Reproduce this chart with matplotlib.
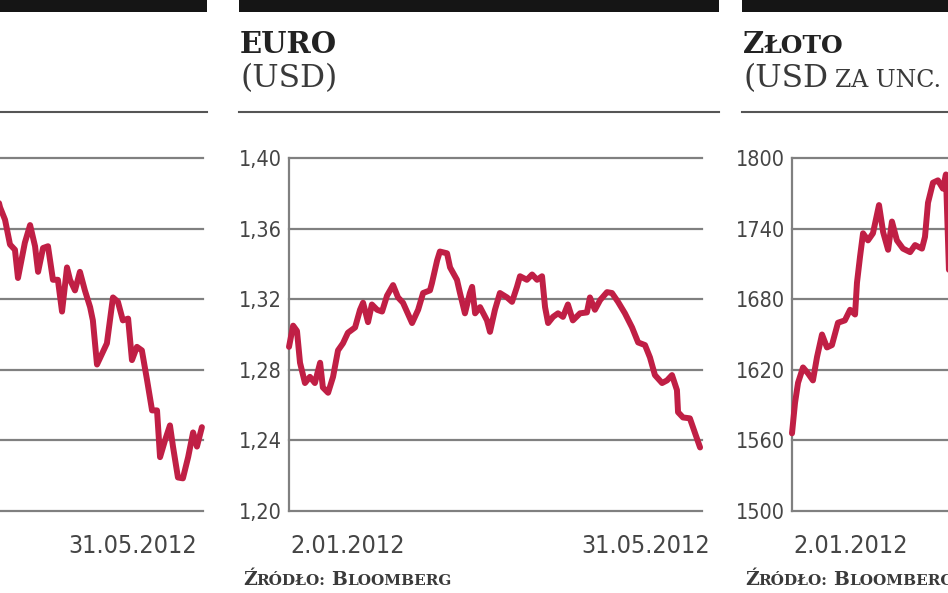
import matplotlib.pyplot as plt
from matplotlib.lines import Line2D
from matplotlib.patches import Rectangle

# days counted from 2.01.2012 (calendar days)
left_days = [75.5, 76.3, 78.1, 79.9, 81.7, 82.8, 85.3, 87.2, 89.0, 90.1, 91.9, 93.7,
             95.5, 97.3, 98.8, 100.6, 101.7, 103.5, 105.3, 107.1, 109.0, 110.0,
             111.5, 113.3, 115.1, 117.3, 119.1, 120.9, 122.8, 124.2, 126.0, 127.8,
             129.7, 131.5, 133.3, 134.4, 136.2, 138.0, 139.1, 140.9, 142.7, 144.6,
             146.4, 147.8, 149.6]
left_values = [1.377, 1.372, 1.365, 1.351, 1.348, 1.332, 1.352, 1.362, 1.350, 1.3355,
               1.349, 1.350, 1.331, 1.331, 1.313, 1.338, 1.331, 1.325, 1.3355, 1.325,
               1.3155, 1.308, 1.283, 1.289, 1.295, 1.321, 1.3185, 1.308, 1.309,
               1.2855, 1.293, 1.291, 1.274, 1.257, 1.257, 1.2305, 1.240, 1.2485,
               1.2365, 1.219, 1.2185, 1.2305, 1.2445, 1.2365, 1.2475]

euro_days = [0.0, 1.5, 2.9, 4.0, 5.8, 7.6, 9.4, 11.3, 12.3, 14.2, 16.0, 17.8, 19.6,
             21.4, 24.0, 25.8, 26.9, 28.7, 30.1, 32.0, 33.8, 35.6, 37.8, 39.6, 41.4,
             44.7, 46.9, 48.7, 51.2, 51.9, 53.8, 54.8, 57.4, 58.5, 61.0, 62.1, 63.9,
             65.7, 66.5, 67.6, 69.4, 71.9, 73.0, 74.8, 76.6, 79.2, 81.0, 82.8, 83.9,
             86.4, 88.3, 90.1, 91.9, 93.0, 94.1, 95.9, 97.7, 99.5, 101.3, 103.1,
             105.7, 108.2, 109.3, 111.1, 113.0, 115.5, 117.3, 119.5, 122.0, 124.6,
             126.8, 129.3, 131.1, 132.9, 135.5, 137.3, 139.1, 140.9, 141.3, 143.1,
             145.6, 147.5, 149.3]
euro_values = [1.293, 1.305, 1.302, 1.284, 1.2725, 1.276, 1.2725, 1.284, 1.270, 1.267,
               1.276, 1.291, 1.295, 1.301, 1.304, 1.314, 1.318, 1.307, 1.317, 1.314,
               1.313, 1.322, 1.328, 1.321, 1.318, 1.3065, 1.314, 1.3235, 1.325, 1.329,
               1.342, 1.347, 1.346, 1.338, 1.331, 1.3235, 1.312, 1.3235, 1.327, 1.312,
               1.3155, 1.308, 1.3015, 1.314, 1.3235, 1.321, 1.3185, 1.327, 1.333,
               1.331, 1.334, 1.331, 1.333, 1.3155, 1.3065, 1.310, 1.312, 1.310, 1.317,
               1.308, 1.312, 1.3125, 1.321, 1.314, 1.3195, 1.324, 1.3235, 1.3185,
               1.312, 1.304, 1.2955, 1.294, 1.287, 1.277, 1.2725, 1.274, 1.277,
               1.2685, 1.256, 1.253, 1.2525, 1.244, 1.236]

gold_days = [0.0, 1.1, 2.2, 4.0, 5.8, 7.6, 9.1, 10.9, 12.7, 14.5, 16.7, 19.2, 21.1,
             22.9, 23.6, 24.7, 25.8, 27.6, 29.4, 31.6, 33.1, 34.9, 36.3, 38.1, 40.3,
             42.9, 44.7, 47.2, 48.3, 49.4, 51.2, 53.0, 54.8, 55.9, 57.0]
gold_values = [1566, 1592, 1609, 1622, 1617, 1611, 1631, 1650, 1639, 1641, 1660, 1662,
               1671, 1667, 1694, 1716, 1736, 1730, 1736, 1760, 1737, 1722, 1746, 1730,
               1723, 1720, 1726, 1723, 1733, 1762, 1779, 1781, 1774, 1786, 1705]

euro_ticks = [1.20, 1.24, 1.28, 1.32, 1.36, 1.40]
euro_labels = ["1,20", "1,24", "1,28", "1,32", "1,36", "1,40"]
gold_ticks = [1500, 1560, 1620, 1680, 1740, 1800]
gold_labels = ["1500", "1560", "1620", "1680", "1740", "1800"]
date_labels = ["2.01.2012", "31.05.2012"]

W, H = 948, 593
LINE = "#c01f45"
GRID = "#808080"
TEXT = "#3a3a3a"
NUM = "#454545"
SERIF = ["DejaVu Serif"]

plt.rcParams["font.family"] = ["DejaVu Sans"]
plt.rcParams["font.stretch"] = "condensed"

fig = plt.figure(figsize=(W / 100, H / 100), dpi=100)
renderer = fig.canvas.get_renderer()


def box(x0, y0, x1, y1):
    return [x0 / W, 1 - y1 / H, (x1 - x0) / W, (y1 - y0) / H]


def pieces(x, y, parts, color, weight="normal"):
    # small-caps style text: list of (text, size, gap after in px)
    for txt, size, gap in parts:
        t = fig.text(x / W, 1 - y / H, txt, fontsize=size, family=SERIF,
                     stretch="normal", color=color, weight=weight,
                     va="baseline", ha="left")
        x = t.get_window_extent(renderer).x1 + gap


def panel(x0, x1, days, values, ticks, labels, show_start, end_shift):
    ax = fig.add_axes(box(x0, 158, x1, 511))
    ax.set_xlim(0, 150)
    ax.set_ylim(ticks[0], ticks[-1])
    for t in ticks:
        ax.axhline(t, color=GRID, lw=1.6, clip_on=False, zorder=1)
    for s in ["top", "right", "bottom"]:
        ax.spines[s].set_visible(False)
    ax.spines["left"].set(color=GRID, lw=1.6)
    ax.set_xticks([])
    ax.set_yticks(ticks, labels)
    ax.tick_params(axis="y", length=0, pad=5, labelsize=15.5, labelcolor=NUM)
    ax.plot(days, values, color=LINE, lw=4.3, solid_joinstyle="round",
            solid_capstyle="round", zorder=3, clip_on=False)
    if show_start:
        ax.annotate(date_labels[0], xy=(0, 0), xycoords=("data", "axes fraction"),
                    xytext=(1, -42), textcoords="offset pixels", ha="left",
                    va="baseline", fontsize=18, color=NUM)
    if end_shift is not None:
        ax.annotate(date_labels[1], xy=(150, 0), xycoords=("data", "axes fraction"),
                    xytext=(end_shift, -42), textcoords="offset pixels", ha="right",
                    va="baseline", fontsize=18, color=NUM)
    return ax


# black header bars and separator rules
for bx0, bx1 in [(0, 207), (239, 719), (742, 948)]:
    fig.add_artist(Rectangle((bx0 / W, 1 - 12 / H), (bx1 - bx0) / W, 12 / H,
                             transform=fig.transFigure, color="#151515", lw=0))
    fig.add_artist(Line2D([bx0 / W, bx1 / W], [1 - 112 / H] * 2,
                          transform=fig.transFigure, color="#555555", lw=1.5))

# left and right panels are only partly inside the picture
panel(203 - 413, 203, left_days, left_values, euro_ticks, [""] * 6, False, -6)
panel(289, 702, euro_days, euro_values, euro_ticks, euro_labels, True, 8)
panel(792, 1205, gold_days, gold_values, gold_ticks, gold_labels, True, None)

# titles
pieces(240, 53, [("EURO", 21, 0)], "#222222", weight="bold")
pieces(240, 87, [("(USD)", 22.5, 0)], TEXT)
pieces(743, 53, [("Z", 21, 0), ("ŁOTO", 18, 0)], "#222222", weight="bold")
pieces(743, 87, [("(USD", 22.5, 7), ("ZA UNC.", 17, 0)], TEXT)

# source notes
for sx in [243, 745]:
    pieces(sx, 585, [("Ź", 13.5, 0), ("RÓDŁO:", 11, 6), ("B", 13.5, 0),
                     ("LOOMBERG", 11, 0)], TEXT, weight="bold")

fig.savefig("out.png", dpi=100)
